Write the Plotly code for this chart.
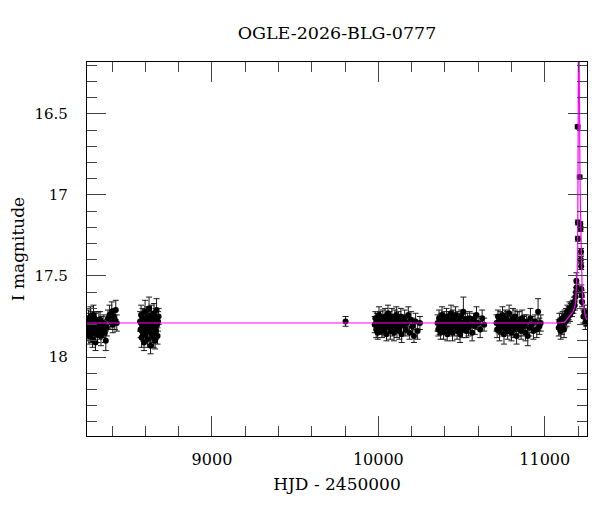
import plotly.graph_objects as go

# season 1 (early part)
t_s1 = [8252, 8255, 8258, 8261, 8264, 8267, 8270, 8273, 8276, 8279, 8282, 8285, 8288, 8291,
        8294, 8297, 8300, 8304, 8308, 8312, 8316, 8320, 8324, 8328, 8333, 8338, 8344, 8350,
        8356, 8362, 8368, 8375, 8384, 8392, 8398, 8404, 8410, 8416, 8422, 8428]
m_s1 = [17.80, 17.84, 17.76, 17.87, 17.79, 17.82, 17.75, 17.86, 17.81, 17.78, 17.89, 17.83,
        17.74, 17.80, 17.85, 17.79, 17.91, 17.77, 17.82, 17.86, 17.81, 17.78, 17.84, 17.77,
        17.87, 17.80, 17.83, 17.79, 17.85, 17.90, 17.82, 17.76, 17.74, 17.78, 17.72, 17.80,
        17.75, 17.77, 17.71, 17.79]
e_s1 = [0.05, 0.06, 0.05, 0.05, 0.06, 0.05, 0.06, 0.05, 0.05, 0.06, 0.05, 0.05, 0.06, 0.05,
        0.05, 0.06, 0.05, 0.05, 0.06, 0.05, 0.05, 0.06, 0.05, 0.05, 0.06, 0.05, 0.05, 0.05,
        0.06, 0.06, 0.05, 0.05, 0.06, 0.05, 0.06, 0.05, 0.05, 0.06, 0.06, 0.05]

# season 1 (late part)
t_s2 = [8568, 8571, 8574, 8577, 8580, 8583, 8586, 8589, 8592, 8595, 8598, 8601, 8604, 8607,
        8610, 8613, 8616, 8619, 8622, 8625, 8628, 8631, 8634, 8637, 8640, 8643, 8646, 8649,
        8652, 8655, 8658, 8661, 8664, 8667, 8670, 8673, 8676, 8679]
m_s2 = [17.78, 17.83, 17.74, 17.88, 17.80, 17.76, 17.85, 17.79, 17.91, 17.82, 17.72, 17.86,
        17.78, 17.81, 17.75, 17.89, 17.83, 17.77, 17.70, 17.84, 17.80, 17.93, 17.79, 17.74,
        17.86, 17.81, 17.77, 17.88, 17.73, 17.82, 17.90, 17.76, 17.84, 17.71, 17.80, 17.87,
        17.78, 17.75]
e_s2 = [0.06, 0.05, 0.06, 0.06, 0.05, 0.06, 0.05, 0.06, 0.05, 0.06, 0.07, 0.05, 0.06, 0.05,
        0.06, 0.05, 0.06, 0.05, 0.07, 0.06, 0.05, 0.05, 0.06, 0.06, 0.05, 0.06, 0.05, 0.06,
        0.06, 0.05, 0.05, 0.06, 0.05, 0.07, 0.06, 0.05, 0.06, 0.05]

# isolated point
t_s3 = [9803]
m_s3 = [17.78]
e_s3 = [0.03]

t_s4 = [9978, 9982, 9987, 9991, 9996, 10000, 10004, 10009, 10013, 10018, 10022, 10027, 10031,
        10036, 10040, 10045, 10049, 10054, 10058, 10063, 10067, 10072, 10076, 10081, 10085,
        10090, 10094, 10099, 10103, 10108, 10112, 10117, 10121, 10126, 10130, 10135, 10140,
        10146, 10152, 10158, 10165, 10172, 10180, 10188, 10196, 10205, 10214, 10224, 10236, 10250]
m_s4 = [17.80, 17.76, 17.83, 17.78, 17.85, 17.79, 17.74, 17.82, 17.77, 17.81, 17.84, 17.76,
        17.79, 17.83, 17.75, 17.80, 17.86, 17.78, 17.73, 17.81, 17.77, 17.84, 17.79, 17.75,
        17.82, 17.78, 17.85, 17.76, 17.80, 17.74, 17.83, 17.79, 17.77, 17.84, 17.81, 17.75,
        17.86, 17.78, 17.80, 17.76, 17.83, 17.79, 17.74, 17.85, 17.77, 17.81, 17.87, 17.78,
        17.84, 17.79]
e_s4 = [0.05, 0.04, 0.05, 0.05, 0.04, 0.05, 0.05, 0.04, 0.05, 0.05, 0.04, 0.05, 0.05, 0.04,
        0.05, 0.05, 0.04, 0.05, 0.05, 0.04, 0.05, 0.05, 0.04, 0.05, 0.05, 0.04, 0.05, 0.05,
        0.04, 0.05, 0.05, 0.04, 0.05, 0.05, 0.04, 0.05, 0.05, 0.04, 0.05, 0.05, 0.04, 0.05,
        0.05, 0.04, 0.05, 0.05, 0.04, 0.05, 0.05, 0.04]

t_s5 = [10356, 10360, 10365, 10369, 10374, 10378, 10383, 10387, 10392, 10396, 10401, 10405,
        10410, 10414, 10419, 10423, 10428, 10432, 10437, 10441, 10446, 10450, 10455, 10459,
        10464, 10468, 10473, 10477, 10482, 10486, 10491, 10496, 10501, 10506, 10511, 10517,
        10523, 10529, 10535, 10542, 10549, 10556, 10564, 10572, 10580, 10590, 10600, 10612,
        10624, 10636]
m_s5 = [17.79, 17.83, 17.76, 17.81, 17.85, 17.78, 17.74, 17.80, 17.84, 17.77, 17.82, 17.79,
        17.75, 17.86, 17.80, 17.77, 17.83, 17.78, 17.73, 17.81, 17.85, 17.76, 17.79, 17.82,
        17.74, 17.80, 17.84, 17.77, 17.81, 17.78, 17.86, 17.75, 17.79, 17.83, 17.72, 17.80,
        17.77, 17.84, 17.78, 17.82, 17.76, 17.80, 17.85, 17.77, 17.81, 17.74, 17.79, 17.83,
        17.76, 17.80]
e_s5 = [0.05, 0.04, 0.05, 0.05, 0.04, 0.05, 0.05, 0.04, 0.05, 0.05, 0.04, 0.05, 0.05, 0.04,
        0.05, 0.05, 0.04, 0.05, 0.05, 0.04, 0.05, 0.05, 0.04, 0.05, 0.05, 0.04, 0.05, 0.05,
        0.04, 0.05, 0.05, 0.04, 0.05, 0.05, 0.09, 0.05, 0.05, 0.04, 0.05, 0.05, 0.04, 0.05,
        0.05, 0.04, 0.05, 0.05, 0.04, 0.05, 0.05, 0.04]

t_s6 = [10710, 10714, 10719, 10723, 10728, 10732, 10737, 10741, 10746, 10750, 10755, 10759,
        10764, 10768, 10773, 10777, 10782, 10786, 10791, 10795, 10800, 10804, 10809, 10813,
        10818, 10822, 10827, 10831, 10836, 10841, 10846, 10852, 10858, 10864, 10870, 10877,
        10884, 10891, 10898, 10906, 10914, 10922, 10932, 10942, 10952, 10960, 10968, 10976]
m_s6 = [17.79, 17.83, 17.75, 17.80, 17.84, 17.77, 17.81, 17.78, 17.74, 17.82, 17.86, 17.79,
        17.76, 17.81, 17.77, 17.84, 17.79, 17.73, 17.82, 17.78, 17.85, 17.80, 17.76, 17.83,
        17.79, 17.75, 17.81, 17.87, 17.78, 17.82, 17.77, 17.80, 17.84, 17.76, 17.81, 17.79,
        17.85, 17.78, 17.87, 17.82, 17.76, 17.80, 17.84, 17.78, 17.83, 17.72, 17.81, 17.79]
e_s6 = [0.05, 0.05, 0.04, 0.05, 0.06, 0.05, 0.05, 0.04, 0.05, 0.05, 0.06, 0.05, 0.05, 0.04,
        0.05, 0.05, 0.06, 0.05, 0.05, 0.04, 0.05, 0.05, 0.06, 0.05, 0.05, 0.04, 0.05, 0.05,
        0.06, 0.05, 0.05, 0.04, 0.05, 0.05, 0.06, 0.05, 0.05, 0.04, 0.06, 0.05, 0.06, 0.05,
        0.05, 0.04, 0.05, 0.08, 0.05, 0.05]

# event season
t_s7 = [11084, 11088, 11092, 11096, 11100, 11104, 11108, 11112, 11116, 11120, 11124, 11128,
        11132, 11136, 11140, 11144, 11148, 11152, 11156, 11160, 11164, 11168, 11172, 11176,
        11180, 11184, 11188, 11190, 11192, 11198, 11199, 11199, 11210, 11214, 11215, 11218,
        11217, 11219, 11220, 11222, 11224, 11232, 11238, 11244, 11250]
m_s7 = [17.82, 17.78, 17.80, 17.84, 17.77, 17.81, 17.76, 17.79, 17.83, 17.75, 17.78, 17.74,
        17.77, 17.72, 17.75, 17.73, 17.70, 17.74, 17.71, 17.69, 17.72, 17.68, 17.70, 17.66,
        17.68, 17.63, 17.60, 17.53, 17.57, 16.58, 17.17, 17.27, 16.89, 17.18, 17.21, 17.35,
        17.40, 17.44, 17.58, 17.62, 17.66, 17.75, 17.72, 17.79, 17.77]
e_s7 = [0.05, 0.05, 0.04, 0.05, 0.04, 0.05, 0.04, 0.04, 0.05, 0.04, 0.04, 0.04, 0.04, 0.04,
        0.04, 0.04, 0.04, 0.04, 0.04, 0.03, 0.03, 0.03, 0.03, 0.03, 0.03, 0.03, 0.03, 0.05,
        0.025, 0.012, 0.015, 0.015, 0.012, 0.015, 0.015, 0.02, 0.02, 0.02, 0.025, 0.03, 0.03,
        0.04, 0.04, 0.04, 0.04]

# model light curve
model_t = [8249, 11080, 11120, 11150, 11170, 11180, 11186, 11190, 11194, 11196, 11198, 11199,
           11200, 11201, 11202, 11204.5, 11207, 11208, 11210, 11212, 11214, 11216, 11218,
           11220, 11225, 11230, 11237, 11245, 11254]
model_m = [17.79, 17.79, 17.785, 17.75, 17.72, 17.69, 17.66, 17.56, 17.50, 17.46, 17.32, 17.20,
           17.00, 16.58, 16.18, 15.60, 16.18, 16.58, 16.75, 16.90, 17.04, 17.17, 17.32,
           17.46, 17.58, 17.66, 17.71, 17.75, 17.77]

x_range = [8249, 11254]
y_range = [18.487, 16.18]

serif = "DejaVu Serif"

t_all = t_s1 + t_s2 + t_s3 + t_s4 + t_s5 + t_s6 + t_s7
m_all = m_s1 + m_s2 + m_s3 + m_s4 + m_s5 + m_s6 + m_s7
e_all = e_s1 + e_s2 + e_s3 + e_s4 + e_s5 + e_s6 + e_s7

fig = go.Figure()

fig.add_trace(go.Scatter(
    x=t_all, y=m_all,
    mode='markers',
    marker=dict(color='black', size=6),
    error_y=dict(type='data', array=e_all, color='#1a1a1a', thickness=1, width=3),
    showlegend=False
))

fig.add_trace(go.Scatter(
    x=model_t, y=model_m,
    mode='lines',
    line=dict(color='#ff00ff', width=1.2),
    showlegend=False
))

axis_common = dict(
    showline=True, linecolor='black', linewidth=1.3, mirror='allticks',
    ticks='inside', tickcolor='#444444', tickwidth=1,
    showgrid=False, zeroline=False, automargin=False,
)

fig.update_xaxes(
    range=x_range, tick0=0, dtick=1000, ticklen=20, tickformat='d',
    tickfont=dict(family=serif, size=16, color='black'),
    minor=dict(dtick=200, ticklen=10, ticks='inside', tickcolor='#444444', showgrid=False),
    title=dict(text='HJD - 2450000', font=dict(family=serif, size=17, color='black'), standoff=9),
    ticklabelstandoff=9,
    **axis_common
)
fig.update_yaxes(
    range=y_range, tick0=0, dtick=0.5, ticklen=19,
    tickfont=dict(family=serif, size=15, color='black'),
    minor=dict(dtick=0.1, ticklen=10, ticks='inside', tickcolor='#444444', showgrid=False),
    title=dict(text='I magnitude', font=dict(family=serif, size=17, color='black'), standoff=8),
    ticklabelstandoff=15,
    **axis_common
)

# page body adds an 8px offset, so the figure is 8px smaller than the window
fig.update_layout(
    title=dict(text='OGLE-2026-BLG-0777', x=0.5, xref='paper', y=1 - 25 / 504, yanchor='middle',
               font=dict(family=serif, size=17.5, color='black')),
    width=592, height=504,
    margin=dict(l=79, r=13, t=54, b=76),
    plot_bgcolor='white', paper_bgcolor='white',
)

fig.write_html("out.html")
